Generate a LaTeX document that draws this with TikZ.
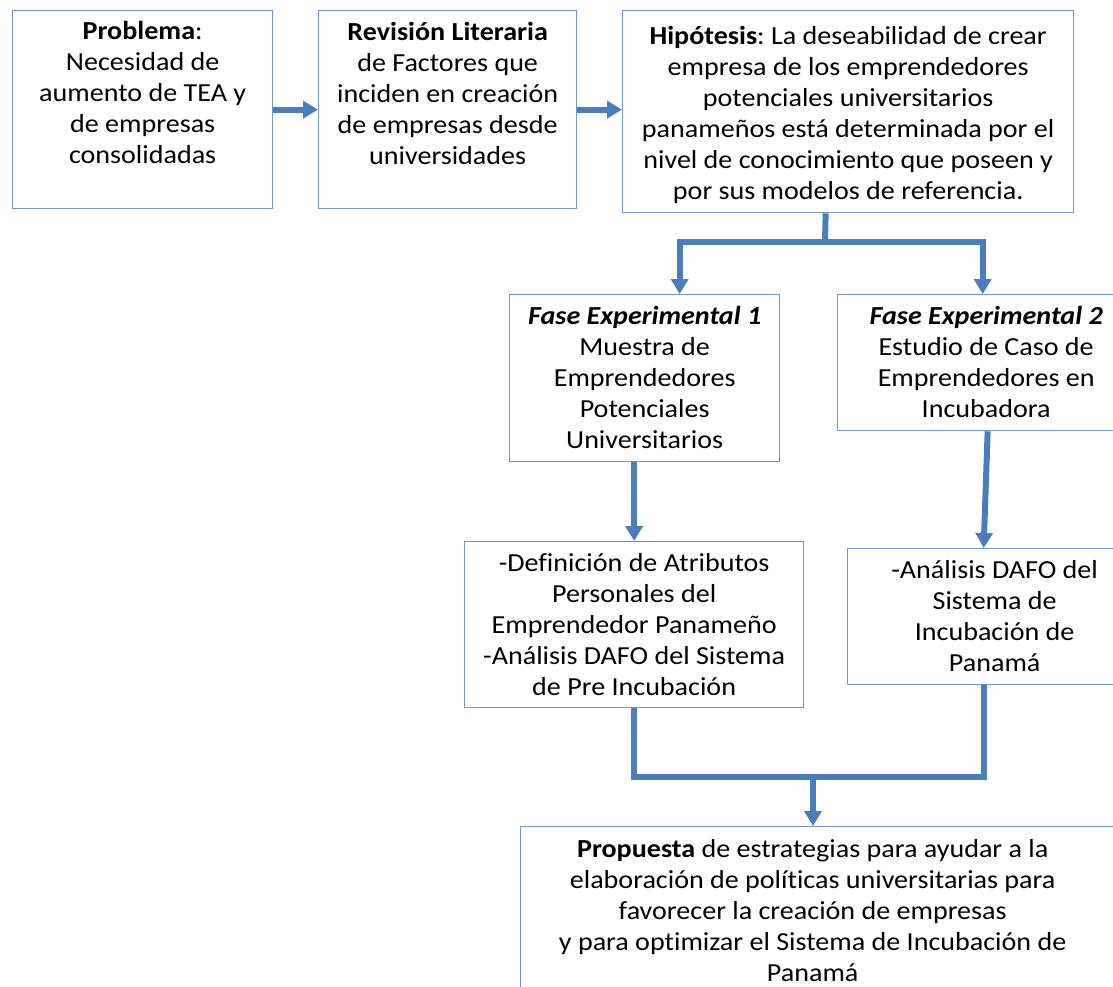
\documentclass[tikz,border=0pt]{standalone}
\usepackage{fontspec}
\setmainfont{Carlito}[FakeStretch=1.08,Ligatures=NoCommon]
\usetikzlibrary{arrows.meta,calc}
\definecolor{frameblue}{RGB}{112,150,208}
\definecolor{flowblue}{RGB}{74,126,187}
\frenchspacing
\begin{document}
\begin{tikzpicture}[x=1pt,y=-1pt,
  box/.style={draw=frameblue,line width=1.3pt,anchor=north west,inner sep=0pt,fill=white},
  boxtext/.style={align=center,inner sep=0pt,anchor=north,font=\fontsize{26}{31}\selectfont},
  flow/.style={draw=flowblue,line width=6pt},
  flowarrow/.style={flow,-{Triangle[width=17pt,length=15pt]}}]
\useasboundingbox (0,0) rectangle (1113,987);
\clip (0,0) rectangle (1113,987);

% boxes
\node[box,minimum width=260pt,minimum height=198pt] (b1) at (12,10) {};
\node[box,minimum width=258pt,minimum height=198pt] (b2) at (318,10) {};
\node[box,minimum width=451pt,minimum height=202pt] (b3) at (622,10) {};
\node[box,minimum width=270pt,minimum height=167pt] (b4) at (509,294) {};
\node[box,minimum width=297pt,minimum height=136pt] (b5) at (837,294) {};
\node[box,minimum width=339pt,minimum height=166pt] (b6) at (464,541) {};
\node[box,minimum width=294pt,minimum height=136pt] (b7) at (847,548) {};
\node[box,minimum width=600pt,minimum height=180pt] (b8) at (520,826) {};

% texts
\node[boxtext] (t1) at ([yshift=-8pt]b1.north) {\strut\textbf{Problema}:\\Necesidad de\\aumento de TEA y\\de empresas\\consolidadas};
\node[boxtext] (t2) at ([yshift=-9pt]b2.north) {\strut\textbf{Revisión Literaria}\\de Factores que\\inciden en creación\\de empresas desde\\universidades};
\node[boxtext] (t3) at ([yshift=-13pt]b3.north) {\strut\textbf{Hipótesis}: La deseabilidad de crear\\empresa de los emprendedores\\potenciales universitarios\\panameños está determinada por el\\nivel de conocimiento que poseen y\\por sus modelos de referencia.};
\node[boxtext] (t4) at ([yshift=-8.5pt]b4.north) {\strut\textbf{\textit{Fase Experimental 1}}\\Muestra de\\Emprendedores\\Potenciales\\Universitarios};
\node[boxtext] (t5) at ([yshift=-8.5pt]b5.north) {\strut\textbf{\textit{Fase Experimental 2}}\\Estudio de Caso de\\Emprendedores en\\Incubadora};
\node[boxtext] (t6) at ([yshift=-8.5pt]b6.north) {\strut-Definición de Atributos\\Personales del\\Emprendedor Panameño\\-Análisis DAFO del Sistema\\de Pre Incubación};
\node[boxtext] (t7) at ([yshift=-8.5pt]b7.north) {\strut-Análisis DAFO del\\Sistema de\\Incubación de\\Panamá};
\node[boxtext] (t8) at ([xshift=-8pt,yshift=-9.5pt]b8.north) {\strut\textbf{Propuesta} de estrategias para ayudar a la\\elaboración de políticas universitarias para\\favorecer la creación de empresas\\y para optimizar el Sistema de Incubación de\\Panamá};

% connectors
\draw[flowarrow] (b1.east) -- (b1.east -| b2.west);
\draw[flowarrow] (b2.east) -- (b2.east -| b3.west);

\coordinate (split) at (825,242);
\draw[flow] ([xshift=-22.5pt]b3.south) -- (split);
\draw[flowarrow] (split) -| ([xshift=35pt]b4.north);
\draw[flowarrow] (split) -| ([xshift=-3.5pt]b5.north);

\draw[flowarrow] (b4.south -| b6.north) -- (b6.north);
\draw[flowarrow] ([xshift=1.5pt]b5.south) -- ([xshift=-11pt]b7.north);

\coordinate (merge) at (813,777);
\draw[flow] (b6.south) |- ([xshift=-11pt]b7.south |- merge) -- ([xshift=-11pt]b7.south);
\draw[flowarrow] (merge) -- (merge |- b8.north);
\end{tikzpicture}
\end{document}
